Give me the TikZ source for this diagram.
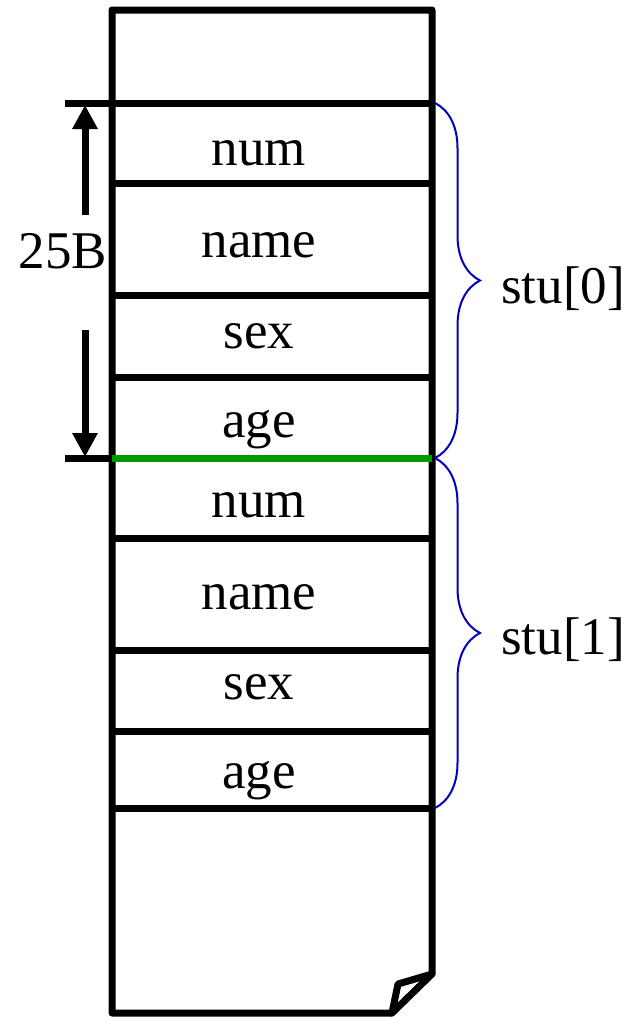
\documentclass[tikz,border=0pt]{standalone}
\usepackage{fontspec}
\setmainfont{Liberation Serif}
\usetikzlibrary{decorations.pathreplacing,arrows.meta}
\begin{document}
\begin{tikzpicture}[x=1pt,y=-1pt,
  wall/.style={line width=7pt, line join=round, line cap=round},
  sep/.style={line width=7pt},
  label/.style={font=\fontsize{53}{60}\selectfont, inner sep=0pt, anchor=base},
  sizearrow/.style={line width=7pt, -{Triangle[length=24pt,width=24pt]}, shorten >=-2pt},
  bracket/.style={draw=blue!75!black, line width=2pt, decorate,
                  decoration={brace, amplitude=45pt, aspect=0.5}}]
\useasboundingbox (0,0) rectangle (632,1017);

% memory column outline with folded lower corner
\draw[wall] (392,1013) -- (112,1013) -- (112,10) -- (432,10) -- (432,974) -- cycle;
\draw[wall] (432,974) -- (398,984) -- (392,1013);

% field separators
\coordinate (t0) at (65,103);   \coordinate (t0r) at (432,103);
\coordinate (t1) at (65,458);   \coordinate (t1l) at (112,458);
\coordinate (t1r) at (432,458); \coordinate (e1r) at (432,808);
\draw[sep] (t0) -- (t0r);
\draw[sep] (t1) -- (t1l);
\draw[line width=7pt, green!60!black] (t1l) -- (t1r);
\foreach \y in {183,295,377,538,650,731} \draw[sep] (112,\y) -- (432,\y);
\draw[sep] (112,808) -- (e1r);

% field names
\node[label] (num0)  at (259,165) {num};
\node[label] (name0) at (259,257) {name};
\node[label] (sex0)  at (259,348) {sex};
\node[label] (age0)  at (259,437) {age};
\node[label] (num1)  at (259,517) {num};
\node[label] (name1) at (259,609) {name};
\node[label] (sex1)  at (259,699) {sex};
\node[label] (age1)  at (259,788) {age};

% size of one element
\node[label] (size) at (63,268) {25B};
\coordinate (upstart) at (85,215);
\coordinate (upend) at (85,107);
\coordinate (downstart) at (85,330);
\coordinate (downend) at (85,455);
\draw[sizearrow] (upstart) -- (upend);
\draw[sizearrow] (downstart) -- (downend);

% element braces
\draw[bracket] ([xshift=3pt]t0r) -- ([xshift=3pt]t1r);
\draw[bracket] ([xshift=3pt]t1r) -- ([xshift=3pt]e1r);
\node[label, anchor=base west] (stu0) at (501,303) {stu[0]};
\node[label, anchor=base west] (stu1) at (501,654) {stu[1]};
\end{tikzpicture}
\end{document}
